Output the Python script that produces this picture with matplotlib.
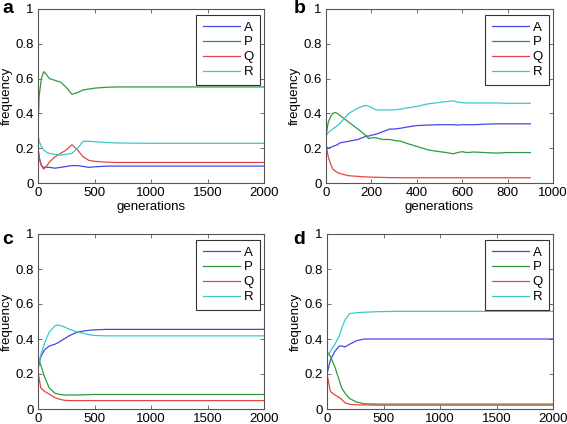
import matplotlib
matplotlib.use("Agg")
import matplotlib.pyplot as plt

plt.rcParams['font.family'] = ['Liberation Sans', 'DejaVu Sans']

# panel a: generations 0..2000
a_x = [0, 10, 30, 50, 80, 100, 150, 200, 250, 300, 350, 400, 450, 500, 600, 700, 1000, 1500, 2000]
a_A = [0.21, 0.15, 0.10, 0.09, 0.09, 0.09, 0.085, 0.09, 0.095, 0.10, 0.10, 0.095, 0.09, 0.093, 0.097, 0.097, 0.097, 0.097, 0.097]
a_P = [0.30, 0.50, 0.60, 0.64, 0.62, 0.60, 0.59, 0.58, 0.55, 0.51, 0.52, 0.535, 0.54, 0.545, 0.55, 0.552, 0.552, 0.552, 0.552]
a_Q = [0.20, 0.14, 0.10, 0.08, 0.10, 0.12, 0.15, 0.17, 0.19, 0.22, 0.19, 0.15, 0.13, 0.125, 0.12, 0.118, 0.118, 0.118, 0.118]
a_R = [0.28, 0.24, 0.21, 0.19, 0.175, 0.17, 0.165, 0.16, 0.165, 0.17, 0.20, 0.24, 0.24, 0.237, 0.233, 0.23, 0.228, 0.228, 0.228]

# panel b: generations 0..900
b_x = [0, 10, 20, 30, 40, 50, 60, 80, 100, 120, 140, 160, 170, 180, 190, 200, 220, 250, 280, 300, 330, 350,
       400, 450, 500, 530, 560, 580, 600, 620, 650, 700, 750, 800, 850, 900]
b_A = [0.21, 0.20, 0.205, 0.21, 0.215, 0.22, 0.23, 0.235, 0.24, 0.245, 0.25, 0.26, 0.265, 0.27, 0.27, 0.275, 0.28, 0.295, 0.31, 0.31,
       0.315, 0.32, 0.33, 0.333, 0.335, 0.335, 0.335, 0.333, 0.335, 0.335, 0.335, 0.338, 0.34, 0.34, 0.34, 0.34]
b_P = [0.27, 0.35, 0.38, 0.40, 0.405, 0.40, 0.39, 0.37, 0.35, 0.33, 0.31, 0.29, 0.28, 0.265, 0.255, 0.26, 0.26, 0.25, 0.25, 0.245,
       0.24, 0.23, 0.21, 0.19, 0.18, 0.175, 0.168, 0.175, 0.18, 0.175, 0.178, 0.175, 0.172, 0.175, 0.175, 0.175]
b_Q = [0.22, 0.15, 0.11, 0.08, 0.07, 0.06, 0.055, 0.048, 0.042, 0.04, 0.038, 0.036, 0.035, 0.035, 0.034, 0.034, 0.033, 0.032, 0.031, 0.031,
       0.03, 0.03, 0.03, 0.03, 0.03, 0.03, 0.03, 0.03, 0.03, 0.03, 0.03, 0.03, 0.03, 0.03, 0.03, 0.03]
b_R = [0.27, 0.29, 0.30, 0.31, 0.32, 0.33, 0.34, 0.37, 0.40, 0.415, 0.43, 0.44, 0.445, 0.445, 0.44, 0.435, 0.42, 0.42, 0.42, 0.42,
       0.425, 0.43, 0.44, 0.455, 0.463, 0.468, 0.472, 0.465, 0.462, 0.46, 0.46, 0.46, 0.46, 0.458, 0.458, 0.458]

# panel c: generations 0..2000
c_x = [0, 25, 60, 100, 150, 180, 230, 280, 350, 450, 500, 600, 800, 1000, 1500, 2000]
c_A = [0.23, 0.30, 0.34, 0.36, 0.37, 0.38, 0.40, 0.42, 0.44, 0.45, 0.452, 0.455, 0.455, 0.455, 0.455, 0.455]
c_P = [0.30, 0.25, 0.18, 0.12, 0.09, 0.085, 0.08, 0.08, 0.08, 0.082, 0.083, 0.083, 0.083, 0.083, 0.083, 0.083]
c_Q = [0.21, 0.12, 0.10, 0.085, 0.065, 0.058, 0.05, 0.048, 0.048, 0.048, 0.048, 0.048, 0.048, 0.048, 0.048, 0.048]
c_R = [0.25, 0.31, 0.38, 0.44, 0.475, 0.48, 0.47, 0.455, 0.44, 0.425, 0.42, 0.418, 0.418, 0.418, 0.418, 0.418]

# panel d: generations 0..2000
d_x = [0, 30, 70, 110, 130, 160, 200, 260, 330, 450, 600, 1000, 1500, 2000]
d_A = [0.20, 0.28, 0.33, 0.36, 0.36, 0.355, 0.37, 0.39, 0.40, 0.40, 0.40, 0.40, 0.40, 0.40]
d_P = [0.33, 0.30, 0.24, 0.16, 0.12, 0.09, 0.06, 0.04, 0.03, 0.028, 0.028, 0.028, 0.028, 0.028]
d_Q = [0.20, 0.10, 0.08, 0.065, 0.055, 0.035, 0.027, 0.024, 0.023, 0.022, 0.022, 0.022, 0.022, 0.022]
d_R = [0.30, 0.33, 0.37, 0.42, 0.46, 0.51, 0.545, 0.55, 0.553, 0.556, 0.558, 0.558, 0.558, 0.558]

names = ['A', 'P', 'Q', 'R']
colors = ['#4646e6', '#2f9a3f', '#e84444', '#3cc8c8']

W, H = 567, 424
fig = plt.figure(figsize=(W / 100, H / 100), dpi=100)


def panel(left, top, right, bottom, x, series, xmax, xticks, letter, lx, ly, xlabel):
    ax = fig.add_axes([left / W, 1 - bottom / H, (right - left) / W, (bottom - top) / H])
    for ys, c, n in zip(series, colors, names):
        ax.plot(x, ys, color=c, lw=0.9, label=n)
    ax.set_xlim(0, xmax)
    ax.set_ylim(0, 1)
    ax.set_xticks(xticks)
    ax.set_yticks([0, 0.2, 0.4, 0.6, 0.8, 1])
    ax.set_yticklabels(['0', '0.2', '0.4', '0.6', '0.8', '1'])
    ax.tick_params(direction='in', top=True, right=True, labelsize=9.5, length=3,
                   width=0.6, color='#555555', pad=3)
    for s in ax.spines.values():
        s.set_color('#555555')
        s.set_linewidth(0.8)
    ax.set_ylabel('frequency', fontsize=9.5, labelpad=2)
    if xlabel:
        ax.set_xlabel('generations', fontsize=9.5, labelpad=1)
    leg = ax.legend(loc='upper right', bbox_to_anchor=(0.99, 0.975), fontsize=9.5,
                    fancybox=False, handlelength=2.8, handletextpad=0.3,
                    labelspacing=0.2, borderpad=0.5, borderaxespad=0.1,
                    framealpha=1)
    leg.get_frame().set_edgecolor('#333333')
    leg.get_frame().set_linewidth(0.8)
    fig.text(lx / W, 1 - ly / H, letter, fontsize=14, fontweight='bold',
             va='top', ha='left')
    return ax


panel(38, 9, 264, 183, a_x, [a_A, a_P, a_Q, a_R], 2000, [0, 500, 1000, 1500, 2000], 'a', 2, 0, True)
panel(326, 9, 553, 183, b_x, [b_A, b_P, b_Q, b_R], 1000, [0, 200, 400, 600, 800, 1000], 'b', 294, 0, True)
panel(38, 234, 264, 409, c_x, [c_A, c_P, c_Q, c_R], 2000, [0, 500, 1000, 1500, 2000], 'c', 2, 231, False)
panel(327, 234, 553, 409, d_x, [d_A, d_P, d_Q, d_R], 2000, [0, 500, 1000, 1500, 2000], 'd', 293, 231, False)

fig.savefig('out.png', dpi=100)
